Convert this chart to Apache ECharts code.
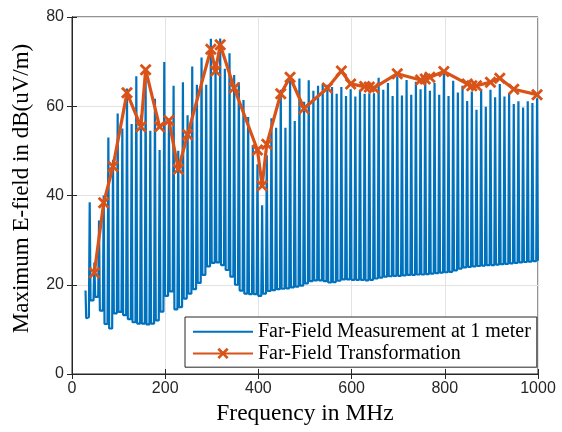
<!DOCTYPE html>
<html>
<head>
<meta charset="utf-8">
<script src="https://cdn.jsdelivr.net/npm/echarts@6/dist/echarts.min.js"></script>
<style>
  html, body { margin: 0; padding: 0; background: #fff; }
  #chart { width: 562px; height: 432px; }
</style>
</head>
<body>
<div id="chart"></div>
<script>
// * Measurement at 1 m: spike tops (MHz / dB(uV/m))
const peakFreqs = [38, 48, 58, 68, 78, 88, 98, 108, 118, 128,
  138, 148, 158, 168, 178, 188, 198, 208, 218, 228,
  238, 248, 258, 268, 278, 288, 298, 308, 318, 328,
  338, 348, 358, 368, 378, 388, 398, 408, 418, 428,
  438, 448, 458, 468, 478, 488, 498, 508, 518, 528,
  538, 548, 558, 568, 578, 588, 598, 608, 618, 628,
  638, 648, 658, 668, 678, 688, 698, 708, 718, 728,
  738, 748, 758, 768, 778, 788, 798, 808, 818, 828,
  838, 848, 858, 868, 878, 888, 898, 908, 918, 928,
  938, 948, 958, 968, 978, 988, 998];
const peakValues = [38.5, 25, 34.4, 40, 53, 48, 58.4, 55, 64, 56,
  66.7, 58, 66, 54.5, 61.7, 50.2, 69.9, 57, 64.6, 50,
  65.4, 58, 68.9, 64.8, 70.9, 64.8, 75.1, 70, 75.2, 68.4,
  71.9, 67, 65.4, 61.4, 57.6, 51.2, 47, 37.8, 49, 57.3,
  55.2, 63.7, 55.2, 66.2, 56.7, 66.2, 61, 65.8, 63.5, 64.6,
  65, 64.8, 64.3, 62.8, 64.3, 62.3, 63.8, 62.2, 63.7, 62.8,
  62.9, 62.9, 66.4, 63.7, 65.2, 62.3, 66.7, 62.4, 65.9, 62.6,
  65.5, 63.8, 67.3, 63.5, 65.2, 62.6, 67.3, 62.3, 65.7, 63.1,
  64.6, 61.2, 63.3, 59.2, 63.8, 59.9, 63.7, 62, 65, 62.2,
  62.9, 60.5, 61.1, 59.7, 61.1, 60.7, 61.8];
// * Floor level between spikes (one before each spike, plus the end)
const troughValues = [12.7, 16.5, 17.3, 14.2, 11.2, 10.2, 13.6, 13.9, 13.2, 12.3,
  11.6, 11.3, 11.3, 11.1, 11.3, 12, 14, 17.5, 18.5, 14.5,
  15, 16.9, 18, 19, 20.4, 22.2, 24.1, 24.9, 25, 24.4,
  23.3, 21.8, 20, 18.7, 18, 17.9, 17.9, 17.5, 18, 18.6,
  18.8, 19, 19.1, 19.2, 19.4, 19.6, 19.8, 20.3, 20.8, 21,
  21, 20.8, 20.5, 20.6, 20.9, 21.2, 21.2, 21.1, 21.1, 21.1,
  21, 21.1, 21.4, 21.6, 21.8, 21.9, 22, 22, 22.1, 22.2,
  22.2, 22.3, 22.3, 22.4, 22.5, 22.6, 22.7, 22.8, 22.9, 23.2,
  23.6, 23.9, 24, 24.1, 24.2, 24.3, 24.4, 24.4, 24.5, 24.6,
  24.7, 24.8, 24.9, 25, 25.1, 25.2, 25.3, 25.4];
const measStart = [[29, 18.7], [30.5, 12.5]];
const measEndFreq = 1000;

// * Far-field transformation
const transFreqs = [48, 68, 88, 118, 148, 158, 188, 208, 228, 248,
  298, 308, 318, 348, 398, 408, 418, 448, 468, 498,
  548, 578, 598, 628, 638, 648, 698, 748, 758, 768,
  798, 848, 858, 868, 898, 918, 948, 998];
const transValues = [22.7, 38.4, 46.5, 63, 55.4, 68.2, 55.4, 56.8, 45.9, 53.6,
  72.8, 67.9, 73.8, 64.1, 50.2, 42.2, 51.5, 62.8, 66.5, 59.5,
  64.1, 67.9, 65, 64.4, 64.3, 64.1, 67.3, 65.9, 66.1, 66.5,
  67.8, 65, 64.6, 64.6, 65.4, 66.3, 63.8, 62.6];

const axisColor = "#262626";
const gridColor = "#e3e3e3";
const serif = "Liberation Serif";
const sans = "Liberation Sans";
const measName = "Far-Field Measurement at 1 meter";
const transName = "Far-Field Transformation";

// ! Build the spiky measurement trace: floor -> top -> floor for each spike
const legW = 1.8; // half width of a spike in MHz
const measData = measStart.slice();
peakFreqs.forEach((f, i) => {
  measData.push([f - legW, troughValues[i]]);
  measData.push([f, peakValues[i]]);
  measData.push([f + legW, troughValues[i + 1]]);
});
measData.push([measEndFreq, troughValues[troughValues.length - 1]]);

const transData = transFreqs.map((f, i) => [f, transValues[i]]);

const xMark = "path://M0,2 L2,0 L6,4 L10,0 L12,2 L8,6 L12,10 L10,12 L6,8 L2,12 L0,10 L4,6 Z";

const myChart = echarts.init(document.getElementById("chart"));
const option = {
  animation: false,
  grid: {
    left: 72,
    right: 24,
    top: 17,
    bottom: 58,
    show: true,
    borderColor: axisColor,
    borderWidth: 1,
  },
  legend: {
    orient: "vertical",
    left: 185,
    top: 317,
    padding: [4, 6, 3, 7],
    itemGap: 0,
    itemWidth: 60,
    itemHeight: 14,
    backgroundColor: "#fff",
    borderColor: axisColor,
    borderWidth: 1,
    borderRadius: 0,
    textStyle: {
      fontFamily: serif,
      fontSize: 20,
      color: "#000",
      lineHeight: 21.6,
    },
    data: [
      { name: measName, itemStyle: { opacity: 0 } },
      { name: transName },
    ],
  },
  xAxis: [
    {
      type: "value",
      min: 0,
      max: 1000,
      interval: 200,
      name: "Frequency in MHz",
      nameLocation: "middle",
      nameGap: 24,
      nameTextStyle: { fontFamily: serif, fontSize: 23.5, color: "#000" },
      axisLine: { show: true, lineStyle: { color: axisColor } },
      axisTick: { inside: true, length: 5, lineStyle: { color: axisColor } },
      axisLabel: {
        fontFamily: sans,
        fontSize: 16,
        color: axisColor,
        margin: 7,
        formatter: (v) => String(v),
      },
      splitLine: { show: true, lineStyle: { color: gridColor } },
    },
    {
      type: "value",
      position: "top",
      min: 0,
      max: 1000,
      interval: 200,
      axisLine: { show: true, lineStyle: { color: axisColor } },
      axisTick: { inside: true, length: 5, lineStyle: { color: axisColor } },
      axisLabel: { show: false },
      splitLine: { show: false },
    },
  ],
  yAxis: [
    {
      type: "value",
      min: 0,
      max: 80,
      interval: 20,
      name: "Maximum E-field in dB(uV/m)",
      nameLocation: "middle",
      nameGap: 39,
      nameTextStyle: {
        fontFamily: serif,
        fontSize: 23,
        color: "#000",
        padding: [0, 0, 0, 14],
      },
      axisLine: { show: true, lineStyle: { color: axisColor } },
      axisTick: { inside: true, length: 5, lineStyle: { color: axisColor } },
      axisLabel: { fontFamily: sans, fontSize: 16, color: axisColor, margin: 8 },
      splitLine: { show: true, lineStyle: { color: gridColor } },
    },
    {
      type: "value",
      position: "right",
      min: 0,
      max: 80,
      interval: 20,
      axisLine: { show: true, lineStyle: { color: axisColor } },
      axisTick: { inside: true, length: 5, lineStyle: { color: axisColor } },
      axisLabel: { show: false },
      splitLine: { show: false },
    },
  ],
  series: [
    {
      name: measName,
      type: "line",
      data: measData,
      showSymbol: false,
      symbol: "none",
      sampling: null,
      lineStyle: { color: "#0072BD", width: 2.2 },
      itemStyle: { color: "#0072BD" },
    },
    {
      name: transName,
      type: "line",
      data: transData,
      symbol: xMark,
      symbolSize: 12,
      lineStyle: { color: "#D95319", width: 3.2 },
      itemStyle: { color: "#D95319" },
    },
  ],
};

myChart.setOption(option);
</script>
</body>
</html>
